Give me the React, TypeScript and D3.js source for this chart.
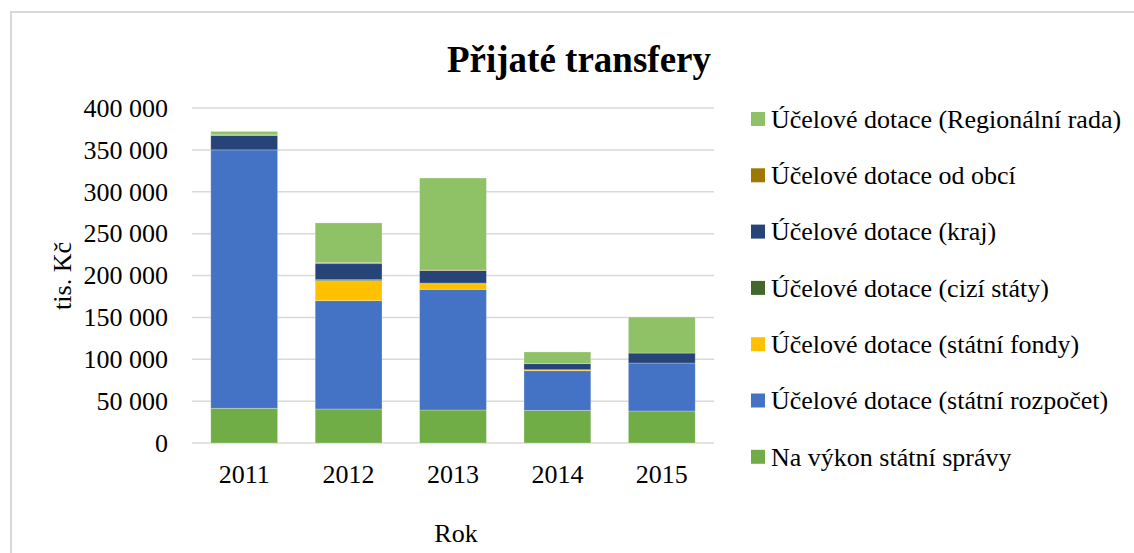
import { useEffect, useRef } from 'react'
import * as d3 from 'd3'

const years = ['2011', '2012', '2013', '2014', '2015']

// stacked bottom -> top
const seriesNames = [
  'Na výkon státní správy',
  'Účelové dotace (státní rozpočet)',
  'Účelové dotace (státní fondy)',
  'Účelové dotace (cizí státy)',
  'Účelové dotace (kraj)',
  'Účelové dotace od obcí',
  'Účelové dotace (Regionální rada)',
]
const seriesColors = ['#70ad47', '#4472c4', '#ffc000', '#43682b', '#264478', '#9e7800', '#8fc167']

const naVykon = [41500, 40600, 39400, 39000, 38200]
const statniRozpocet = [308500, 129300, 144100, 47300, 57300]
const statniFondy = [0, 23900, 6700, 1200, 0]
const ciziStaty = [0, 1200, 800, 0, 0]
const kraj = [17000, 19100, 15000, 7200, 11900]
const odObci = [1000, 1300, 500, 0, 0]
const regionalniRada = [4000, 47400, 109900, 14000, 43000]

const yTicks = [0, 50000, 100000, 150000, 200000, 250000, 300000, 350000, 400000]

const W = 1134
const H = 553

export default function App() {
  const svgRef = useRef<SVGSVGElement>(null)

  useEffect(() => {
    const svg = d3.select(svgRef.current)
    svg.selectAll('*').remove()

    const font = '"Liberation Serif", "Times New Roman", serif'
    const cols = [naVykon, statniRozpocet, statniFondy, ciziStaty, kraj, odObci, regionalniRada]
    const table = years.map((yr, i) => {
      const row: any = { year: yr }
      seriesNames.forEach((s, k) => (row[s] = cols[k][i]))
      return row
    })

    const x = d3.scaleBand().domain(years).range([192, 714]).paddingInner(0.36).paddingOuter(0.18)
    const y = d3.scaleLinear().domain([0, 400000]).range([443, 108])

    // outer frame
    svg.append('path')
      .attr('d', `M11,${H} L11,12 L${W},12`)
      .attr('fill', 'none')
      .attr('stroke', '#d9d9d9')
      .attr('stroke-width', 2)

    svg.append('text')
      .attr('x', 579)
      .attr('y', 72)
      .attr('text-anchor', 'middle')
      .style('font-family', font)
      .style('font-size', '37px')
      .style('font-weight', 'bold')
      .text('Přijaté transfery')

    const grid = svg.append('g')
    grid.selectAll('line')
      .data(yTicks)
      .join('line')
      .attr('x1', 192)
      .attr('x2', 714)
      .attr('y1', (d) => y(d))
      .attr('y2', (d) => y(d))
      .attr('stroke', '#d9d9d9')
      .attr('stroke-width', 1.5)

    svg.append('g')
      .selectAll('text')
      .data(yTicks)
      .join('text')
      .attr('x', 168)
      .attr('y', (d) => y(d))
      .attr('dy', '0.34em')
      .attr('text-anchor', 'end')
      .style('font-family', font)
      .style('font-size', '26px')
      .text((d) => d3.format(',')(d).replace(/,/g, ' '))

    const stack = d3.stack<any>().keys(seriesNames)(table)

    svg.append('g')
      .selectAll('g')
      .data(stack)
      .join('g')
      .attr('fill', (_d, i) => seriesColors[i])
      .selectAll('rect')
      .data((d) => d.filter((p) => p[1] - p[0] > 0))
      .join('rect')
      .attr('x', (d: any) => x(d.data.year)!)
      .attr('width', x.bandwidth())
      .attr('y', (d) => y(d[1]))
      .attr('height', (d) => y(d[0]) - y(d[1]))
      .attr('stroke', '#ffffff')
      .attr('stroke-opacity', 0.35)
      .attr('stroke-width', 0.75)

    svg.append('g')
      .selectAll('text')
      .data(years)
      .join('text')
      .attr('x', (d) => x(d)! + x.bandwidth() / 2)
      .attr('y', 483)
      .attr('text-anchor', 'middle')
      .style('font-family', font)
      .style('font-size', '26px')
      .text((d) => d)

    svg.append('text')
      .attr('x', 456)
      .attr('y', 542)
      .attr('text-anchor', 'middle')
      .style('font-family', font)
      .style('font-size', '26px')
      .text('Rok')

    svg.append('text')
      .attr('transform', 'translate(71,276) rotate(-90)')
      .attr('text-anchor', 'middle')
      .style('font-family', font)
      .style('font-size', '26px')
      .text('tis. Kč')

    const legendItems = seriesNames.map((n, i) => ({ n, c: seriesColors[i] })).reverse()
    const lg = svg.append('g')
      .selectAll('g')
      .data(legendItems)
      .join('g')
      .attr('transform', (_d, i) => `translate(751,${119 + i * 56.3})`)
    lg.append('rect')
      .attr('x', 0)
      .attr('y', -7)
      .attr('width', 14)
      .attr('height', 14)
      .attr('fill', (d) => d.c)
    lg.append('text')
      .attr('x', 20)
      .attr('y', 0)
      .attr('dy', '0.34em')
      .style('font-family', font)
      .style('font-size', '26px')
      .text((d) => d.n)
  }, [])

  return (
    <div style={{ position: 'absolute', left: 0, top: 0, background: '#fff' }}>
      <svg ref={svgRef} width={W} height={H} style={{ display: 'block' }} />
    </div>
  )
}
